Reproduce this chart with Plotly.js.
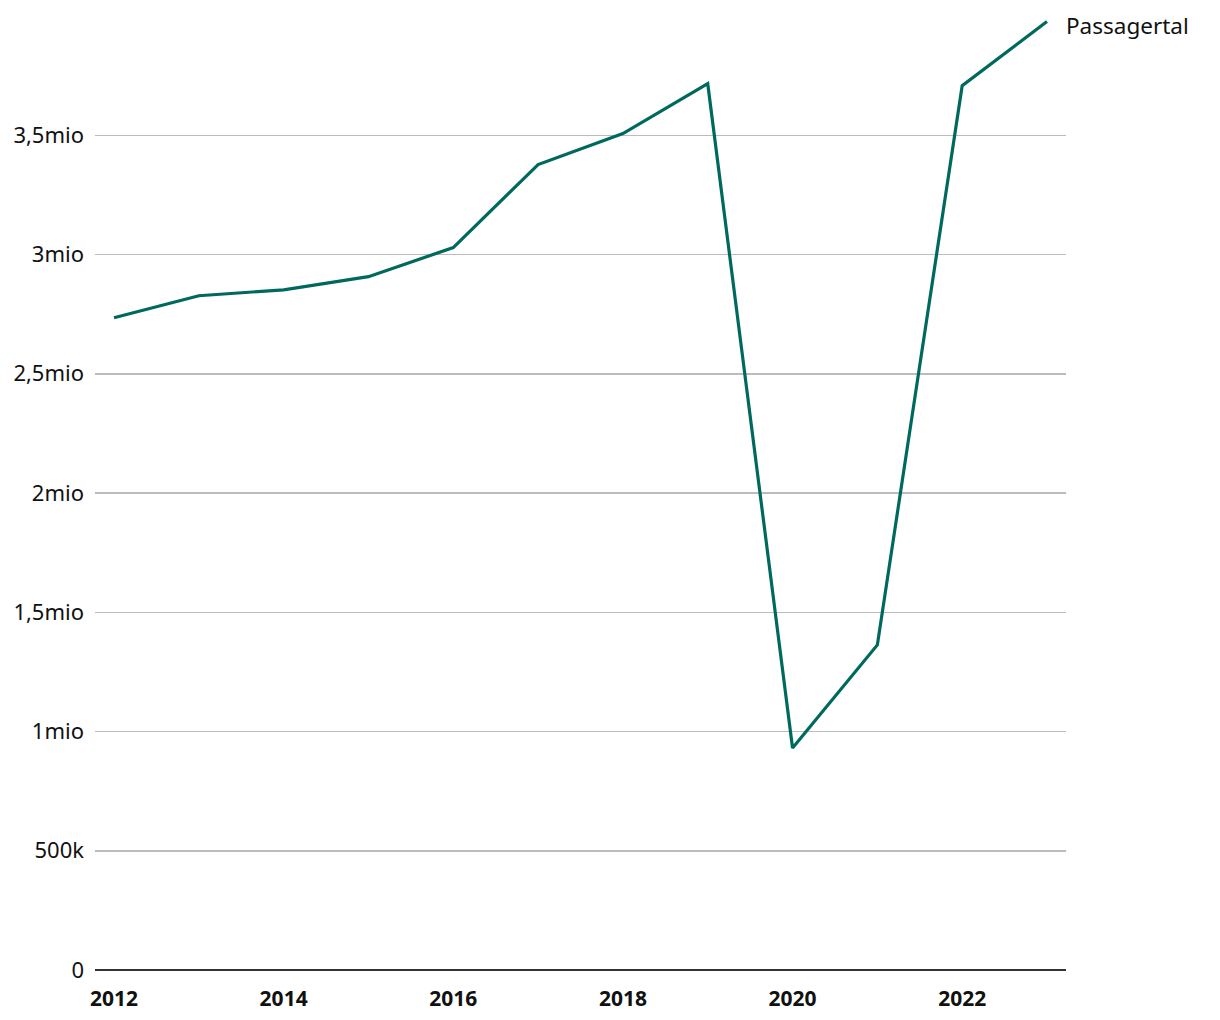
<!DOCTYPE html>
<html><head><meta charset="utf-8">
<script src="https://cdn.plot.ly/plotly-3.0.1.min.js"></script>
<style>html,body{margin:0;padding:0;background:#fff}#chart{width:1220px;height:1020px}</style>
</head><body><div id="chart"></div>
<script>
const years = [2012,2013,2014,2015,2016,2017,2018,2019,2020,2021,2022,2023];
const passengers = [2735000,2827000,2852000,2907000,3029000,3377000,3507000,3716000,931000,1363000,3708000,3977000];
const seriesName = "Passagertal";
const yTickVals = [0,500000,1000000,1500000,2000000,2500000,3000000,3500000];
const yTickText = ["0","500k","1mio","1,5mio","2mio","2,5mio","3mio","3,5mio"];
const xTickVals = [2012,2014,2016,2018,2020,2022];
const xTickText = ["2012","2014","2016","2018","2020","2022"];

const font = "'Noto Sans', 'Open Sans', sans-serif";
const trace = {
  x: years, y: passengers, type: "scatter", mode: "lines", name: seriesName,
  line: {color: "#00695e", width: 3.2}, hoverinfo: "skip"
};
const layout = {
  width: 1220, height: 1020,
  margin: {l: 95, r: 154, t: 16, b: 50},
  paper_bgcolor: "#fff", plot_bgcolor: "#fff",
  showlegend: false,
  font: {family: font, size: 22, color: "#111"},
  xaxis: {
    range: [2011.776, 2023.224], tickvals: xTickVals, ticktext: xTickText,
    showgrid: false, zeroline: false, showline: false,
    ticks: "", ticklabelstandoff: 14,
    tickfont: {family: font, size: 21, color: "#111", weight: "bold"}
  },
  yaxis: {
    range: [0, 4000000], tickvals: yTickVals, ticktext: yTickText,
    showgrid: true, gridcolor: "#bcbcbc", gridwidth: 1.5,
    zeroline: true, zerolinecolor: "#333", zerolinewidth: 1.8,
    showline: false, ticks: "", ticklabelstandoff: 10,
    tickfont: {family: font, size: 22, color: "#111"}
  },
  annotations: [{
    x: years[years.length-1], y: passengers[passengers.length-1],
    xref: "x", yref: "y", text: seriesName, showarrow: false,
    xanchor: "left", yanchor: "middle", xshift: 17, yshift: -4,
    font: {family: font, size: 22.5, color: "#111"}
  }]
};
Plotly.newPlot("chart", [trace], layout, {displayModeBar: false, staticPlot: true});
</script></body></html>
